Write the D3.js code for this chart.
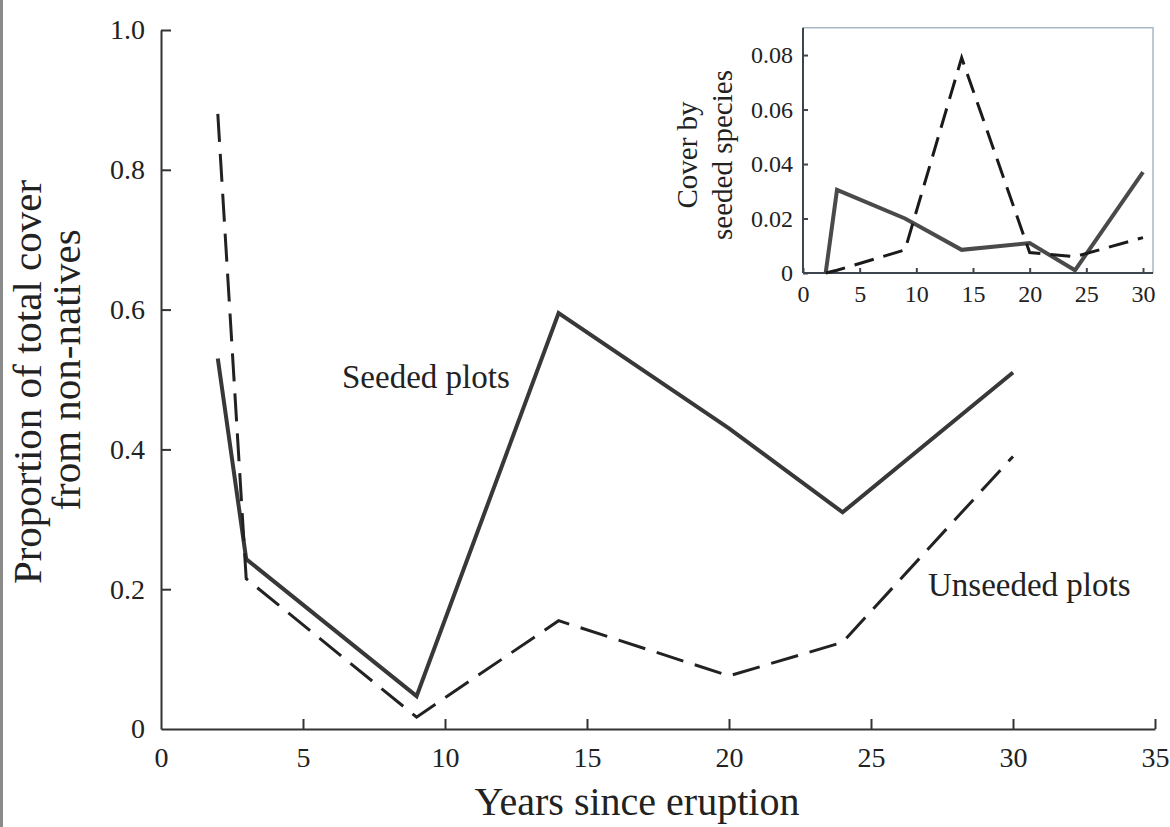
<!DOCTYPE html>
<html>
<head>
<meta charset="utf-8">
<script src="https://cdn.jsdelivr.net/npm/d3@7/dist/d3.min.js"></script>
<style>
  body { margin: 0; background: #fff; }
  svg text { font-family: "Liberation Serif", "Times New Roman", serif; fill: #222; }
  .axis path, .axis line { stroke: #333; stroke-width: 2; }
  .inset .axis path, .inset .axis line { stroke: #3d4650; }
</style>
</head>
<body>
<div id="chartContainer"></div>
<script>
// years sampled after the eruption
var years = [2, 3, 9, 14, 20, 24, 30];

// main panel: proportion of total cover from non-natives
var seededMain   = [0.53, 0.243, 0.047, 0.595, 0.43, 0.31, 0.51];
var unseededMain = [0.88, 0.215, 0.017, 0.155, 0.076, 0.124, 0.39];

// inset: cover by seeded species
var seededInset   = [0, 0.0305, 0.020, 0.0085, 0.011, 0.001, 0.037];
var unseededInset = [0, 0.001, 0.0085, 0.079, 0.0075, 0.006, 0.013];

var xTicks = [0, 5, 10, 15, 20, 25, 30, 35];
var yTicks = [0, 0.2, 0.4, 0.6, 0.8, 1.0];
var insetXTicks = [0, 5, 10, 15, 20, 25, 30];
var insetYTicks = [0, 0.02, 0.04, 0.06, 0.08];

var width = 1170;
var height = 827;

var svg = d3.select('#chartContainer')
    .append('svg')
    .attr("width", width)
    .attr("height", height);

// scan border on the left edge
svg.append("rect").attr("x", 0).attr("y", 0).attr("width", 3).attr("height", height).attr("fill", "#8a8a8a");

/***** Main panel *****/
var x = d3.scaleLinear().domain([0, 35]).range([161, 1155]);
var y = d3.scaleLinear().domain([0, 1]).range([729, 30]);

var xAxis = d3.axisBottom(x)
    .tickValues(xTicks)
    .tickSize(-10)
    .tickPadding(18)
    .tickSizeOuter(0)
    .tickFormat(d3.format("d"));
svg.append('g').attr("class", "axis")
    .attr("transform", "translate(0," + y(0) + ")")
    .call(xAxis)
    .call(g => g.selectAll("text").attr("font-size", 28));

var yAxis = d3.axisLeft(y)
    .tickValues(yTicks)
    .tickSize(-10)
    .tickPadding(16)
    .tickSizeOuter(0)
    .tickFormat(d => d === 0 ? "0" : d3.format(".1f")(d));
svg.append('g').attr("class", "axis")
    .attr("transform", "translate(" + x(0) + ",0)")
    .call(yAxis)
    .call(g => g.selectAll("text").attr("font-size", 28));

// hide the 0 tick lines so the corner stays clean
svg.selectAll(".axis .tick").filter(d => d === 0).select("line").remove();

var line = d3.line()
    .x((d, i) => x(years[i]))
    .y(d => y(d));

svg.append("path")
    .datum(seededMain)
    .attr("d", line)
    .attr("fill", "none")
    .attr("stroke", "#383838")
    .attr("stroke-width", 4)
    .attr("stroke-linejoin", "miter");

svg.append("path")
    .datum(unseededMain)
    .attr("d", line)
    .attr("fill", "none")
    .attr("stroke", "#222")
    .attr("stroke-width", 3)
    .attr("stroke-dasharray", "28,12");

svg.append("text").attr("x", 342).attr("y", 388).attr("font-size", 33).text("Seeded plots");
svg.append("text").attr("x", 928).attr("y", 596).attr("font-size", 33).text("Unseeded plots");

svg.append("text")
    .attr("x", 637).attr("y", 815)
    .attr("text-anchor", "middle")
    .attr("font-size", 40)
    .text("Years since eruption");

svg.append("text")
    .attr("transform", "translate(41,382) rotate(-90)")
    .attr("text-anchor", "middle")
    .attr("font-size", 41)
    .text("Proportion of total cover");
svg.append("text")
    .attr("transform", "translate(80,370) rotate(-90)")
    .attr("text-anchor", "middle")
    .attr("font-size", 41)
    .text("from non-natives");

/***** Inset *****/
var inset = svg.append("g").attr("class", "inset");
var ix = d3.scaleLinear().domain([0, 30]).range([803, 1143]);
var iy = d3.scaleLinear().domain([0, 0.09]).range([273, 27.8]);

// light frame on top and right
inset.append("path")
    .attr("d", "M" + ix(0) + "," + iy(0.09) + "H1153V" + iy(0))
    .attr("fill", "none")
    .attr("stroke", "#a9b8c8")
    .attr("stroke-width", 1.5);

inset.append("g").attr("class", "axis")
    .attr("transform", "translate(0," + iy(0) + ")")
    .call(d3.axisBottom(ix).tickValues(insetXTicks).tickSize(-5).tickPadding(12).tickSizeOuter(0))
    .call(g => g.select(".domain").attr("d", "M" + ix(0) + ",0H1153"))
    .call(g => g.selectAll("text").attr("font-size", 24));

inset.append("g").attr("class", "axis")
    .attr("transform", "translate(" + ix(0) + ",0)")
    .call(d3.axisLeft(iy).tickValues(insetYTicks).tickSize(-5).tickPadding(10).tickSizeOuter(0)
        .tickFormat(d => d === 0 ? "0" : d3.format(".2f")(d)))
    .call(g => g.select(".domain").attr("d", "M0," + iy(0) + "V" + iy(0.09)))
    .call(g => g.selectAll("text").attr("font-size", 24));

var iline = d3.line()
    .x((d, i) => ix(years[i]))
    .y(d => iy(d));

inset.append("path")
    .datum(seededInset)
    .attr("d", iline)
    .attr("fill", "none")
    .attr("stroke", "#4a4a4a")
    .attr("stroke-width", 4);

inset.append("path")
    .datum(unseededInset)
    .attr("d", iline)
    .attr("fill", "none")
    .attr("stroke", "#1a1a1a")
    .attr("stroke-width", 3)
    .attr("stroke-dasharray", "20,10");

inset.append("text")
    .attr("transform", "translate(697,155) rotate(-90)")
    .attr("text-anchor", "middle")
    .attr("font-size", 29)
    .text("Cover by");
inset.append("text")
    .attr("transform", "translate(732,155) rotate(-90)")
    .attr("text-anchor", "middle")
    .attr("font-size", 29)
    .text("seeded species");
</script>
</body>
</html>
